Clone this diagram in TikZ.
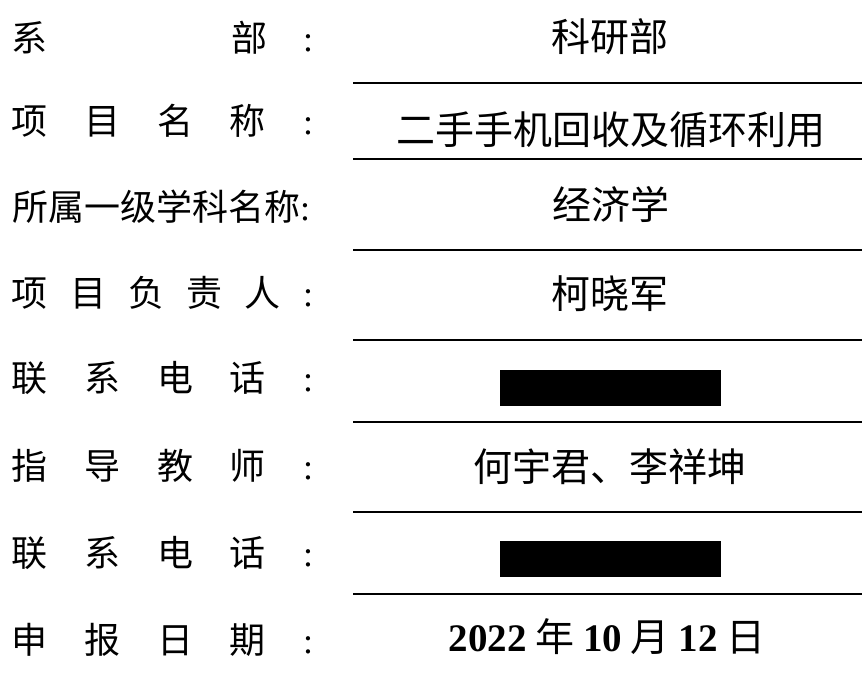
\documentclass[tikz,border=0pt]{standalone}
\usepackage{fontspec}
\setmainfont{Liberation Serif}
\newfontfamily\cjk{Noto Sans CJK SC}
\begin{document}
\begin{tikzpicture}[x=1pt,y=-1pt,
  labbase/.style={inner sep=0pt,text height=31.7pt,text depth=4.3pt},
  lab/.style={labbase,anchor=center,font={\cjk\fontsize{36}{36}\selectfont}},
  labrow/.style={labbase,anchor=west,font={\cjk\fontsize{36}{36}\selectfont}},
  colon/.style={labbase,anchor=center,font={\rmfamily\fontsize{36}{36}\selectfont}},
  val/.style={anchor=center,inner sep=0pt,text height=34.3pt,text depth=4.7pt,font={\cjk\fontsize{39}{39}\selectfont}},
  rule/.style={line width=2pt},
  redact/.style={fill=black}]
\useasboundingbox (0,0) rectangle (862,679);
% labels
\node[lab] (l1a) at (30,38) {系};
\node[lab] (l1b) at (249,38) {部};
\node[colon] (c1) at (308,38) {:};
\foreach \ch [count=\i] in {项,目,名,称}
  \node[lab] (l2-\i) at ({30+(\i-1)*72.5},121) {\ch};
\node[colon] (c2) at (308,121) {:};
\node[labrow] (l3) at (12,207) {所属一级学科名称\rmfamily :};
\foreach \ch [count=\i] in {项,目,负,责,人}
  \node[lab] (l4-\i) at ({30+(\i-1)*58},293) {\ch};
\node[colon] (c4) at (308,293) {:};
\foreach \ch [count=\i] in {联,系,电,话}
  \node[lab] (l5-\i) at ({30+(\i-1)*72.5},378) {\ch};
\node[colon] (c5) at (308,378) {:};
\foreach \ch [count=\i] in {指,导,教,师}
  \node[lab] (l6-\i) at ({30+(\i-1)*72.5},466) {\ch};
\node[colon] (c6) at (308,466) {:};
\foreach \ch [count=\i] in {联,系,电,话}
  \node[lab] (l7-\i) at ({30+(\i-1)*72.5},553) {\ch};
\node[colon] (c7) at (308,553) {:};
\foreach \ch [count=\i] in {申,报,日,期}
  \node[lab] (l8-\i) at ({30+(\i-1)*72.5},640) {\ch};
\node[colon] (c8) at (308,640) {:};
% values
\node[val] (v1) at (610,37) {科研部};
\node[val] (v2) at (611,130) {二手手机回收及循环利用};
\node[val] (v3) at (611,205) {经济学};
\node[val] (v4) at (610,294) {柯晓军};
\node[val] (v6) at (610,467) {何宇君、李祥坤};
\node[val] (v8) at (607,637) {{\rmfamily\bfseries 2022} 年 {\rmfamily\bfseries 10} 月 {\rmfamily\bfseries 12} 日};
% redactions
\fill[redact] (500,370) rectangle (721,406);
\fill[redact] (500,541) rectangle (721,577);
% underlines
\foreach \yy in {83,159,250,340,422,512,594}
  \draw[rule] (353,\yy) -- (862,\yy);
\end{tikzpicture}
\end{document}
